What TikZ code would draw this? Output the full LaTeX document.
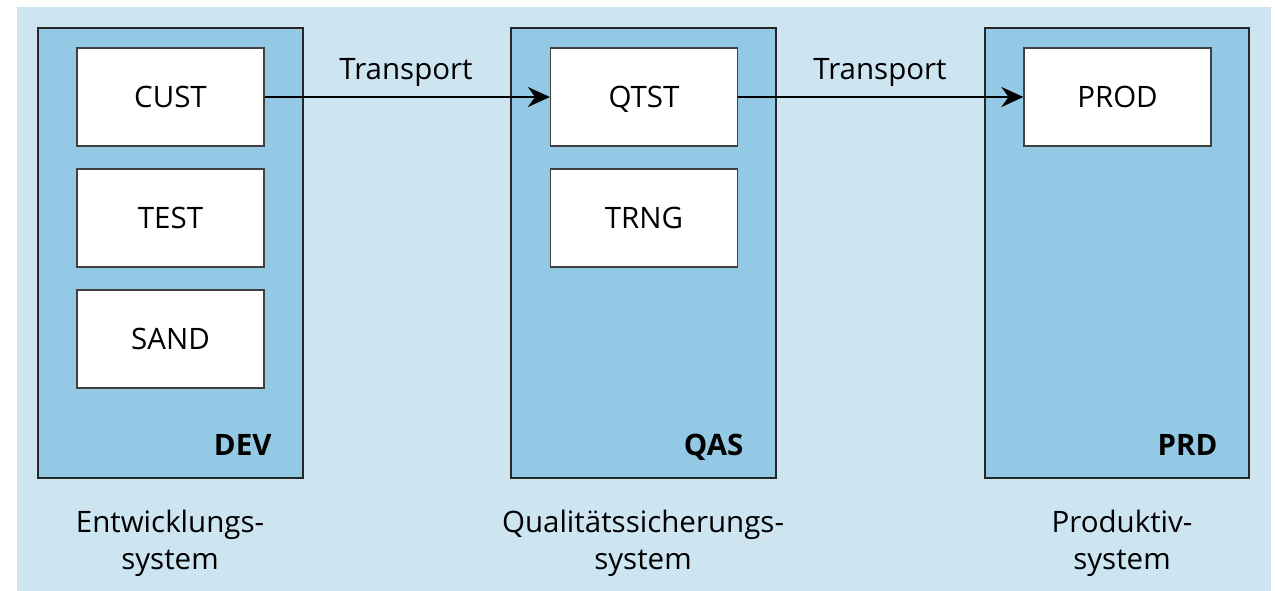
\documentclass[tikz,border=0pt]{standalone}
\usepackage{fontspec}
\setmainfont{Open Sans}
\usetikzlibrary{arrows.meta}
\definecolor{bgblue}{RGB}{205,228,241}
\definecolor{sysblue}{RGB}{148,201,229}
\begin{document}
\begin{tikzpicture}[x=1pt,y=-1pt,
  sysbox/.style={draw=black!85,line width=1.4pt,fill=sysblue},
  client/.style={draw=black!75,line width=1.2pt,fill=white,minimum width=187pt,minimum height=98pt,inner sep=0pt,text height=21pt,text depth=0pt,font=\fontsize{29.5}{32}\selectfont},
  syslabel/.style={font=\fontsize{29.5}{32}\selectfont\bfseries,anchor=base east},
  sysname/.style={align=center,font=\fontsize{29.5}{37}\selectfont,anchor=north},
  translabel/.style={font=\fontsize{29.5}{32}\selectfont,anchor=base},
  transarrow/.style={-{Stealth[length=22pt,width=20pt]},line width=2.8pt}]
\useasboundingbox (0,0) rectangle (1276,591);
\fill[bgblue] (17,7) rectangle (1271,591);
% system boxes
\draw[sysbox] (38,28) rectangle (303,478);
\draw[sysbox] (511,28) rectangle (776,478);
\draw[sysbox] (985,28) rectangle (1249,478);
\node[syslabel] (dev) at (275,455) {DEV};
\node[syslabel] (qas) at (747,455) {QAS};
\node[syslabel] (prd) at (1221,455) {PRD};
% clients
\node[client] (cust) at (170.5,97) {CUST};
\node[client] (test) at (170.5,218) {TEST};
\node[client] (sand) at (170.5,339) {SAND};
\node[client] (qtst) at (644,97) {QTST};
\node[client] (trng) at (644,218) {TRNG};
\node[client] (prod) at (1117.5,97) {PROD};
% transports
\draw[transarrow] (cust.east) -- (qtst.west);
\draw[transarrow] (qtst.east) -- (prod.west);
\node[translabel] (t1) at (406,80) {Transport};
\node[translabel] (t2) at (880,80) {Transport};
% system names
\node[sysname] (n1) at (170,507) {Entwicklungs-\\system};
\node[sysname] (n2) at (643,507) {Qualitätssicherungs-\\system};
\node[sysname] (n3) at (1122,507) {Produktiv-\\system};
\end{tikzpicture}
\end{document}
